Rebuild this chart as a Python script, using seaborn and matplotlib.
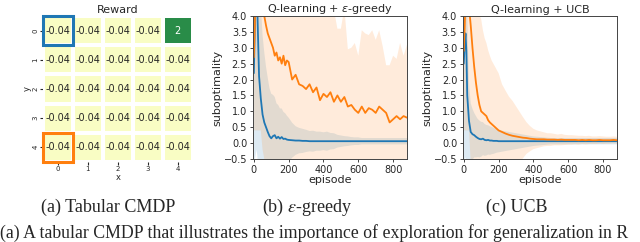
import numpy as np
import pandas as pd
import seaborn as sns
import matplotlib.pyplot as plt
from matplotlib.patches import Rectangle

sns.set_style("ticks")
plt.rcParams["font.family"] = ["DejaVu Sans"]
plt.rcParams["mathtext.fontset"] = "dejavusans"

# --- (a) tabular reward grid ---
grid_x = [0, 1, 2, 3, 4]
grid_y = [0, 1, 2, 3, 4]
rewards = [
    [-0.04, -0.04, -0.04, -0.04, 2],
    [-0.04, -0.04, -0.04, -0.04, -0.04],
    [-0.04, -0.04, -0.04, -0.04, -0.04],
    [-0.04, -0.04, -0.04, -0.04, -0.04],
    [-0.04, -0.04, -0.04, -0.04, -0.04],
]
start_cell = (0, 0)   # (x, y) outlined in blue
test_cell = (0, 4)    # (x, y) outlined in orange

# --- learning curves (mean and std) ---
episodes = [0, 5, 10, 15, 20, 30, 40, 50, 60, 70, 80, 90, 100, 110, 120, 130, 140, 150,
            160, 170, 180, 190, 200, 220, 240, 260, 280, 300, 320, 340, 360, 380, 400,
            420, 440, 460, 480, 500, 520, 540, 560, 580, 600, 620, 640, 660, 680, 700,
            720, 740, 760, 780, 800, 820, 840, 860, 880]

greedy_blue_mean = [2.2, 3.5, 4.6, 4.8, 4.2, 2.1, 1.4, 0.9, 0.65, 0.5, 0.35, 0.22, 0.15, 0.22,
                    0.25, 0.15, 0.2, 0.14, 0.19, 0.13, 0.14, 0.11, 0.1,
                    0.09, 0.08, 0.08, 0.07, 0.07, 0.06, 0.06, 0.06, 0.06, 0.06, 0.06, 0.06,
                    0.06, 0.06, 0.06, 0.06, 0.06, 0.06, 0.06, 0.06, 0.06, 0.06, 0.06, 0.06,
                    0.06, 0.06, 0.06, 0.06, 0.06, 0.06, 0.06, 0.06, 0.06, 0.06]
greedy_blue_std = [2.8, 4.0, 5.0, 5.0, 4.6, 3.5, 3.0, 2.5, 2.2, 1.9, 1.7, 1.5, 1.4, 1.3, 1.2,
                   1.1, 1.0, 0.95, 0.9, 0.85, 0.8, 0.75, 0.7,
                   0.55, 0.45, 0.4, 0.38, 0.35, 0.32, 0.33, 0.3, 0.3, 0.28, 0.3, 0.26, 0.25,
                   0.2, 0.18, 0.16, 0.15, 0.13, 0.12, 0.12, 0.1, 0.1, 0.1, 0.1, 0.1, 0.1,
                   0.1, 0.1, 0.1, 0.1, 0.1, 0.1, 0.1, 0.1]
greedy_orange_mean = [2.7, 3.6, 4.6, 5.2, 5.5, 5.3, 4.9, 4.4, 4.0, 3.7, 3.45, 3.3, 3.15, 3.0,
                      2.75, 2.85, 2.6, 2.7, 2.5, 2.75, 2.45, 2.6, 2.55,
                      2.0, 2.15, 1.85, 1.8, 1.7, 1.85, 1.6, 1.75, 1.35, 1.55, 1.45, 1.6, 1.3,
                      1.5, 1.3, 1.45, 1.15, 1.2, 1.05, 0.95, 1.15, 0.95, 1.1, 1.05, 0.95,
                      1.15, 1.05, 0.95, 0.65, 0.75, 0.85, 0.75, 0.85, 0.8]
greedy_orange_std = [2.3, 3.2, 4.2, 4.8, 5.1, 4.9, 4.5, 4.6, 4.5, 4.3, 4.3, 4.3, 4.3, 4.3,
                     4.3, 4.3, 4.3, 4.3, 4.3, 4.3, 4.3, 4.3, 4.3,
                     3.5, 3.5, 3.5, 3.5, 3.5, 3.4, 3.3, 2.3, 3.0, 2.8, 2.9, 2.5, 2.9, 2.1,
                     2.3, 2.8, 1.8, 1.8, 2.1, 1.8, 2.4, 2.5, 2.3, 2.5, 2.3, 2.4, 2.0, 1.5,
                     1.8, 2.0, 1.8, 2.4, 1.9, 2.3]

ucb_blue_mean = [2.5, 3.1, 3.45, 2.9, 1.5, 0.7, 0.35, 0.28, 0.25, 0.2, 0.16, 0.13, 0.12, 0.14,
                 0.1, 0.09, 0.1, 0.08, 0.08, 0.07, 0.07, 0.07, 0.06,
                 0.06, 0.06, 0.06, 0.06, 0.06, 0.06, 0.06, 0.06, 0.06, 0.06, 0.06, 0.06,
                 0.06, 0.06, 0.06, 0.06, 0.06, 0.06, 0.06, 0.06, 0.06, 0.06, 0.06, 0.06,
                 0.06, 0.06, 0.06, 0.06, 0.06, 0.06, 0.06, 0.06, 0.06, 0.06]
ucb_blue_std = [3.0, 3.6, 3.9, 3.5, 2.5, 1.2, 0.9, 0.8, 0.7, 0.65, 0.6, 0.58, 0.55, 0.52, 0.5,
                0.48, 0.46, 0.45, 0.43, 0.41, 0.39, 0.37, 0.35,
                0.33, 0.31, 0.29, 0.27, 0.25, 0.23, 0.21, 0.19, 0.17, 0.15, 0.14, 0.13,
                0.12, 0.11, 0.1, 0.1, 0.1, 0.1, 0.1, 0.1, 0.1, 0.1, 0.1, 0.1, 0.1, 0.1,
                0.1, 0.1, 0.1, 0.1, 0.1, 0.1, 0.1, 0.1]
ucb_orange_mean = [2.9, 3.6, 4.5, 4.8, 5.0, 4.3, 3.7, 3.0, 2.4, 1.9, 1.5, 1.2, 1.0, 0.95, 0.9,
                   0.85, 0.72, 0.65, 0.6, 0.55, 0.5, 0.45, 0.4,
                   0.35, 0.3, 0.26, 0.23, 0.21, 0.19, 0.17, 0.16, 0.14, 0.13, 0.12, 0.12,
                   0.12, 0.11, 0.11, 0.11, 0.1, 0.11, 0.1, 0.1, 0.1, 0.1, 0.09, 0.1, 0.09,
                   0.1, 0.09, 0.09, 0.1, 0.09, 0.09, 0.09, 0.1, 0.09]
ucb_orange_std = [2.5, 3.2, 4.1, 4.4, 4.6, 3.9, 4.3, 3.6, 3.0, 2.8, 2.9, 2.85, 2.9, 2.6, 2.4,
                  2.3, 2.2, 2.1, 2.0, 1.95, 1.9, 1.85, 1.8,
                  1.5, 1.35, 1.2, 1.1, 0.95, 0.8, 0.65, 0.5, 0.4, 0.32, 0.28, 0.25, 0.22,
                  0.2, 0.2, 0.18, 0.17, 0.18, 0.16, 0.15, 0.15, 0.14, 0.14, 0.13, 0.13,
                  0.13, 0.12, 0.12, 0.12, 0.12, 0.11, 0.11, 0.11, 0.11]

blue = "#1f77b4"
orange = "#ff7f0e"

fig = plt.figure(figsize=(6.4, 2.42), dpi=100)

# heatmap
ax0 = fig.add_axes([0.067, 0.331, 0.234, 0.603])
df = pd.DataFrame(rewards, index=grid_y, columns=grid_x)
sns.heatmap(df, annot=True, fmt="g", cmap="YlGn", vmin=-0.35, vmax=2.9, cbar=False,
            linewidths=1.5, linecolor="white", ax=ax0, annot_kws={"size": 7})
ax0.add_patch(Rectangle(start_cell, 1, 1, fill=False, edgecolor=blue, lw=2.2, clip_on=False))
ax0.add_patch(Rectangle(test_cell, 1, 1, fill=False, edgecolor=orange, lw=2.2, clip_on=False))
ax0.set_title("Reward", fontsize=8, pad=2)
ax0.set_xlabel("x", fontsize=6, labelpad=1)
ax0.set_ylabel("y", fontsize=6, labelpad=1)
ax0.tick_params(labelsize=5, length=2, pad=1)

# learning curve panels
panels = [
    (0.395, "Q-learning + $\\epsilon$-greedy", greedy_blue_mean, greedy_blue_std,
     greedy_orange_mean, greedy_orange_std),
    (0.723, "Q-learning + UCB", ucb_blue_mean, ucb_blue_std,
     ucb_orange_mean, ucb_orange_std),
]
for left, title, bm, bs, om, osd in panels:
    ax = fig.add_axes([left, 0.343, 0.241, 0.591])
    bm, bs, om, osd = map(np.array, (bm, bs, om, osd))
    ax.fill_between(episodes, bm - bs, bm + bs, color=blue, alpha=0.15, lw=0)
    ax.fill_between(episodes, om - osd, om + osd, color=orange, alpha=0.15, lw=0)
    sns.lineplot(x=episodes, y=bm, ax=ax, color=blue, lw=1.3)
    sns.lineplot(x=episodes, y=om, ax=ax, color=orange, lw=1.3)
    ax.set_xlim(-6, 880)
    ax.set_ylim(-0.5, 4.0)
    ax.set_xticks([0, 200, 400, 600, 800])
    ax.set_yticks([-0.5, 0.0, 0.5, 1.0, 1.5, 2.0, 2.5, 3.0, 3.5, 4.0])
    ax.set_yticklabels(["\u22120.5", "0.0", "0.5", "1.0", "1.5", "2.0", "2.5", "3.0", "3.5", "4.0"])
    ax.tick_params(labelsize=7, length=2.5, width=0.6, pad=1.5)
    for s in ax.spines.values():
        s.set_linewidth(0.7)
        s.set_color("#444444")
    ax.set_title(title, fontsize=8, pad=2)
    ax.set_xlabel("episode", fontsize=8, labelpad=0)
    ax.set_ylabel("suboptimality", fontsize=8, labelpad=1)

# sub-figure captions
cap = dict(family="Liberation Serif", size=13, ha="center", va="center", math_fontfamily="stix")
fig.text(108 / 640, 1 - 207 / 242, "(a) Tabular CMDP", **cap)
fig.text(307 / 640, 1 - 207 / 242, "(b) $\\varepsilon$-greedy", **cap)
fig.text(517 / 640, 1 - 207 / 242, "(c) UCB", **cap)
fig.text(0.0, 0.0, "(a) A tabular CMDP that illustrates the importance of exploration for generalization in R",
         family="Liberation Serif", size=12.8, ha="left", va="bottom")

plt.savefig("out.png", dpi=100)
plt.close()
